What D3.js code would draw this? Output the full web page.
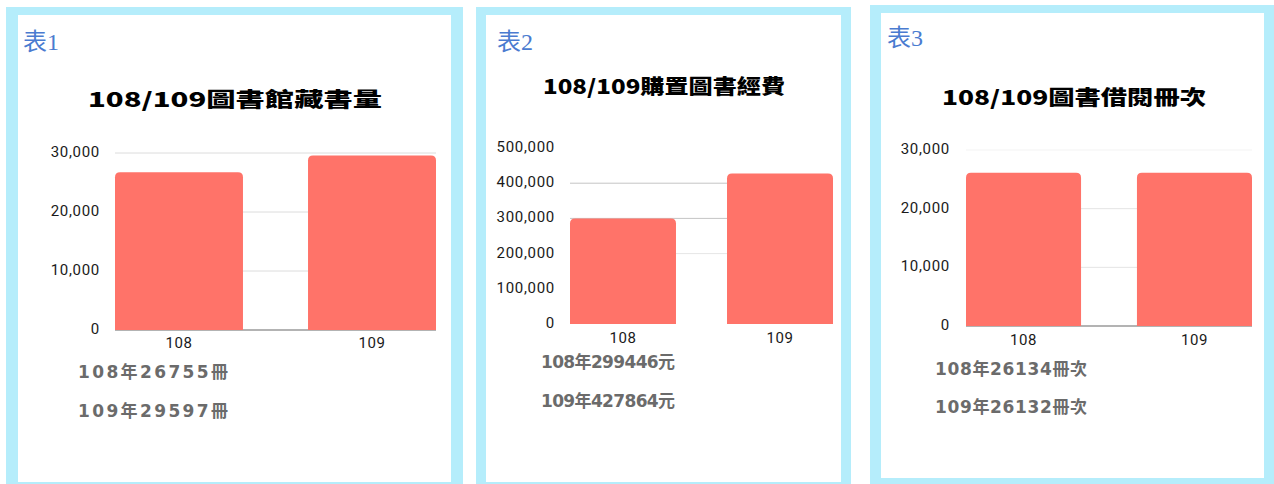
<!DOCTYPE html>
<html>
<head>
<meta charset="utf-8">
<script src="https://cdn.jsdelivr.net/npm/d3@7"></script>
<style>
  body { margin: 0; background: #fff; }
  svg { display: block; }
</style>
</head>
<body>
<script>
// data
const years = ['108', '109'];
const holdings = [26755, 29597];   // 館藏書量 (冊)
const budget = [299446, 427864];   // 購置圖書經費 (元)
const loans = [26134, 26132];      // 借閱冊次
const panelLabels = ['表1', '表2', '表3'];
const titles = ['108/109圖書館藏書量', '108/109購置圖書經費', '108/109圖書借閱冊次'];
const yMax = [30000, 500000, 30000];
const yTicks = [
  [0, 10000, 20000, 30000],
  [0, 100000, 200000, 300000, 400000, 500000],
  [0, 10000, 20000, 30000]
];
const notes = [
  ['108年26755冊', '109年29597冊'],
  ['108年299446元', '109年427864元'],
  ['108年26134冊次', '109年26132冊次']
];

// layout of each framed panel
const layout = [
  { frame: [6, 7, 457, 483], inner: [18, 15, 433, 467], plot: [115, 436, 330, 153], pad: 0.337,
    tickX: 100, label: [23, 50], title: [235, 102, 294], xlabY: 344, note: [78, 373, 412, 150],
    grid: ['#dcdcdc', '#dcdcdc', '#dcdcdc'], base: '#9a9a9a' },
  { frame: [476, 7, 375, 483], inner: [486, 15, 355, 467], plot: [570, 833, 324, 148], pad: 0.325,
    tickX: 555, label: [497, 50], title: [664, 89, 242], xlabY: 339, note: [541, 363, 402, 134],
    grid: ['none', '#e6e6e6', '#c4c4c4', '#c4c4c4', 'none'], base: 'none' },
  { frame: [870, 5, 404, 485], inner: [881, 13, 383, 465], plot: [966, 1252, 326, 150], pad: 0.327,
    tickX: 950, label: [887, 46], title: [1074, 100, 264], xlabY: 341, note: [935, 370, 408, 152],
    grid: ['#e4e4e4', '#e4e4e4', '#f3f3f3'], base: '#9a9a9a' }
];

const series = [holdings, budget, loans];
const barColor = '#ff7369';

const svg = d3.select('body').append('svg').attr('width', 1274).attr('height', 484);

// top-rounded bar path
function barPath(x, y, w, h, r) {
  r = Math.min(r, h, w / 2);
  return `M${x},${y + h}V${y + r}Q${x},${y} ${x + r},${y}H${x + w - r}Q${x + w},${y} ${x + w},${y + r}V${y + h}Z`;
}

layout.forEach((L, i) => {
  const g = svg.append('g');

  g.append('rect').attr('x', L.frame[0]).attr('y', L.frame[1])
    .attr('width', L.frame[2]).attr('height', L.frame[3]).attr('fill', '#b5edfb');
  g.append('rect').attr('x', L.inner[0]).attr('y', L.inner[1])
    .attr('width', L.inner[2]).attr('height', L.inner[3]).attr('fill', '#fff');

  // 表N
  g.append('text').attr('x', L.label[0]).attr('y', L.label[1])
    .attr('font-family', '"Liberation Serif", "Noto Sans CJK TC", serif')
    .attr('font-size', 24).attr('fill', '#4a7bd0')
    .text(panelLabels[i]);

  // title
  g.append('text').attr('x', L.title[0]).attr('y', L.title[1])
    .attr('text-anchor', 'middle').attr('dominant-baseline', 'middle')
    .attr('font-family', '"Noto Sans CJK TC", sans-serif')
    .attr('font-size', 20).attr('font-weight', 900).attr('fill', '#000')
    .attr('textLength', L.title[2]).attr('lengthAdjust', 'spacingAndGlyphs')
    .text(titles[i]);

  const x = d3.scaleBand().domain(years).range([L.plot[0], L.plot[1]])
    .paddingInner(L.pad).paddingOuter(0);
  const y = d3.scaleLinear().domain([0, yMax[i]]).range([L.plot[2], L.plot[3]]);

  // gridlines
  g.append('g').selectAll('line').data(yTicks[i].slice(1)).join('line')
    .attr('x1', L.plot[0]).attr('x2', L.plot[1])
    .attr('y1', d => y(d)).attr('y2', d => y(d))
    .attr('stroke', (d, j) => L.grid[j])
    .attr('stroke-width', 1);

  // baseline
  g.append('line').attr('x1', L.plot[0]).attr('x2', L.plot[1])
    .attr('y1', y(0)).attr('y2', y(0)).attr('stroke', L.base).attr('stroke-width', 1.5);

  // bars
  g.append('g').selectAll('path').data(series[i]).join('path')
    .attr('d', (d, j) => barPath(x(years[j]), y(d), x.bandwidth(), y(0) - y(d), 5))
    .attr('fill', barColor);

  // y tick labels
  const fmt = d3.format(',');
  g.append('g').selectAll('text').data(yTicks[i]).join('text')
    .attr('x', L.tickX).attr('y', d => y(d))
    .attr('text-anchor', 'end').attr('dominant-baseline', 'middle')
    .attr('font-family', 'Roboto, "Noto Sans", sans-serif')
    .attr('font-size', 15).attr('fill', '#1a1a1a').attr('letter-spacing', 0.7)
    .text(d => fmt(d));

  // x labels
  g.append('g').selectAll('text').data(years).join('text')
    .attr('x', d => x(d) + x.bandwidth() / 2).attr('y', L.xlabY)
    .attr('text-anchor', 'middle').attr('dominant-baseline', 'middle')
    .attr('font-family', 'Roboto, "Noto Sans", sans-serif')
    .attr('font-size', 15).attr('fill', '#1a1a1a').attr('letter-spacing', 0.6)
    .text(d => d);

  // notes under the chart
  g.append('g').selectAll('text').data(notes[i]).join('text')
    .attr('x', L.note[0]).attr('y', (d, j) => L.note[1 + j])
    .attr('dominant-baseline', 'middle')
    .attr('font-family', '"DejaVu Sans", "Noto Sans CJK TC", sans-serif')
    .attr('font-size', 17).attr('font-weight', 700).attr('fill', '#6b6b6b')
    .attr('textLength', L.note[3]).attr('lengthAdjust', 'spacing')
    .text(d => d);
});
</script>
</body>
</html>
